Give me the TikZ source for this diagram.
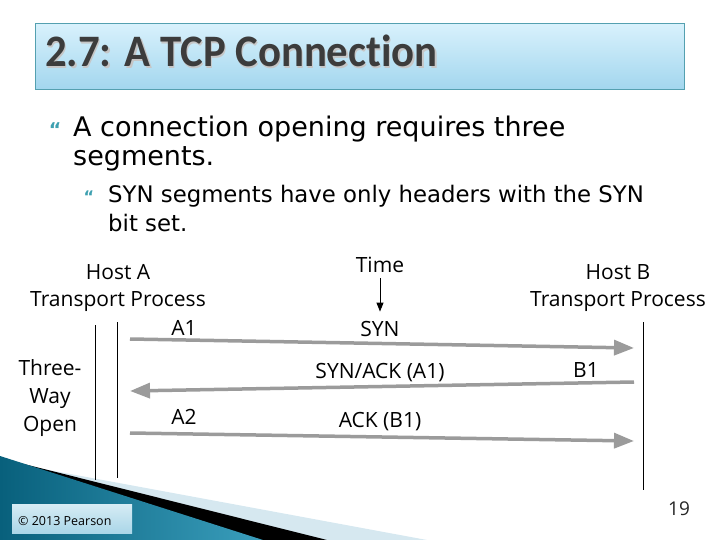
\documentclass[tikz,border=0pt]{standalone}
\usepackage{fontspec}
\setmainfont{DejaVu Sans}
\newfontfamily\titlefont[FakeStretch=0.95, Ligatures=NoCommon]{Carlito}
\newfontfamily\bodyfont{DejaVu Sans}
\newfontfamily\figfont{Open Sans}
\usetikzlibrary{arrows.meta, positioning}
\definecolor{tealdark}{RGB}{8,96,124}
\definecolor{teallight}{RGB}{58,158,188}
\definecolor{titletop}{RGB}{216,241,252}
\definecolor{titlebot}{RGB}{162,214,238}
\definecolor{titleedge}{RGB}{84,160,176}
\definecolor{bandlight}{RGB}{214,232,240}
\definecolor{boxtop}{RGB}{214,236,244}
\definecolor{boxbot}{RGB}{170,214,232}
\definecolor{arrowgray}{RGB}{155,155,155}
\definecolor{bullcolor}{RGB}{62,160,176}
\definecolor{titlegray}{RGB}{60,60,60}
\tikzset{
  titletxt/.style = {anchor=base west, inner sep=0pt, text=titlegray,
                     font=\titlefont\bfseries\fontsize{45}{50}\selectfont},
  bodyA/.style    = {anchor=base west, inner sep=0pt, font=\bodyfont\fontsize{27}{31}\selectfont},
  bodyB/.style    = {anchor=base west, inner sep=0pt, font=\bodyfont\fontsize{22.8}{27}\selectfont},
  bull/.style     = {anchor=base, inner sep=0pt, text=bullcolor, font=\bfseries},
  figlbl/.style   = {anchor=base, inner sep=0pt, font=\figfont\fontsize{21}{25}\selectfont},
  timeline/.style = {draw=black, line width=0.9pt},
  msg/.style      = {draw=arrowgray, line width=3.5pt, -{Triangle[length=20pt,width=15pt]}},
  timearrow/.style= {draw=black, line width=1pt, -{Triangle[length=9pt,width=7pt]}},
}

\begin{document}
\begin{tikzpicture}[x=1pt, y=-1pt]
  \useasboundingbox (0,0) rectangle (720,540);

  % title bar
  \path[top color=titletop, bottom color=titlebot, draw=titleedge, line width=1pt]
    (35,24) rectangle (684,90);
  \node[titletxt, text=gray!45] (titleshadow) at (46.5,68.5) {2.7: A TCP Connection};
  \node[titletxt] (title) at (45,67) {2.7: A TCP Connection};

  % bullet text
  \node[bull, font=\bfseries\fontsize{19}{20}\selectfont] (b1) at (55,137) {“};
  \node[bodyA] (l1) at (73,137) {A connection opening requires three};
  \node[bodyA] (l2) at (73,166) {segments.};
  \node[bull, font=\bfseries\fontsize{16}{18}\selectfont] (b2) at (89,203) {“};
  \node[bodyB] (l3) at (108,203) {SYN segments have only headers with the SYN};
  \node[bodyB] (l4) at (108,232) {bit set.};

  % footer band
  \fill[bandlight] (0,461) -- (427,540) -- (0,540) -- cycle;
  \fill[black] (0,458) -- (327,540) -- (0,540) -- cycle;
  \shade[left color=tealdark, right color=teallight] (0,456) -- (263,540) -- (0,540) -- cycle;
  \path[top color=boxtop, bottom color=boxbot] (12,504) rectangle (132,533);
  \node[anchor=base west, inner sep=0pt, font=\figfont\fontsize{12.5}{14}\selectfont]
    (copy) at (18,525) {© 2013 Pearson};
  \node[anchor=base, inner sep=0pt, font=\figfont\fontsize{19}{22}\selectfont, text=black!85]
    (pagenum) at (679,515) {19};

  % host labels
  \node[figlbl] (hostAa) at (118,279) {Host A};
  \node[figlbl] (hostAb) at (118,306) {Transport Process};
  \node[figlbl] (hostBa) at (618,279) {Host B};
  \node[figlbl] (hostBb) at (618,306) {Transport Process};
  \node[figlbl] (time) at (380,272) {Time};

  % side label
  \foreach \i/\txt/\y in {1/Three-/375, 2/Way/403, 3/Open/431} {
    \node[figlbl] (open\i) at (50,\y) {\txt};
  }

  % segment labels
  \node[figlbl] (a1) at (184,335) {A1};
  \node[figlbl] (syn) at (380,336) {SYN};
  \node[figlbl] (synack) at (380,378) {SYN/ACK (A1)};
  \node[figlbl] (b1lbl) at (586,377) {B1};
  \node[figlbl] (a2) at (184,424) {A2};
  \node[figlbl] (ack) at (380,427) {ACK (B1)};

  % time lines
  \coordinate (la1) at (95,325);  \coordinate (la2) at (95,480);
  \coordinate (lb1) at (117,322); \coordinate (lb2) at (117,478);
  \coordinate (lc1) at (643,322); \coordinate (lc2) at (643,490);
  \draw[timeline] (la1) -- (la2);
  \draw[timeline] (lb1) -- (lb2);
  \draw[timeline] (lc1) -- (lc2);
  \draw[timearrow, shorten <=6pt, shorten >=9pt] (time.south) -- (syn.north);

  % segments
  \coordinate (s1a) at (130,339); \coordinate (s1b) at (634,348);
  \coordinate (s2a) at (634,382); \coordinate (s2b) at (130,391);
  \coordinate (s3a) at (130,433); \coordinate (s3b) at (634,441);
  \draw[msg] (s1a) -- (s1b);
  \draw[msg] (s2a) -- (s2b);
  \draw[msg] (s3a) -- (s3b);
\end{tikzpicture}
\end{document}
